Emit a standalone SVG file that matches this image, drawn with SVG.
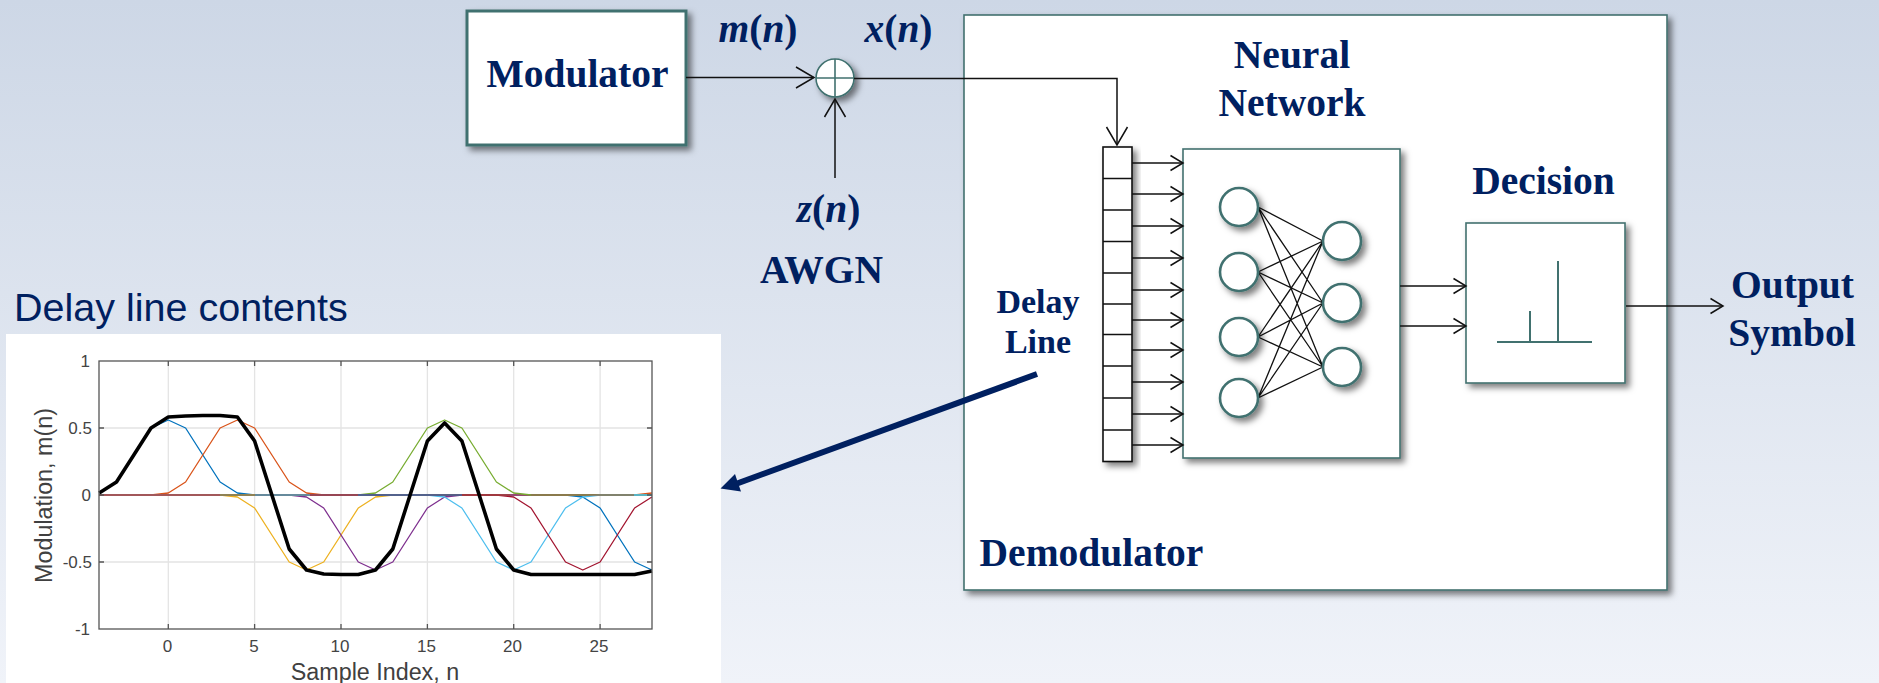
<svg xmlns="http://www.w3.org/2000/svg" width="1879" height="683" viewBox="0 0 1879 683">
<style>
.box{fill:#fff;stroke:#41716f;stroke-width:1.6}
.t{font-family:"Liberation Serif","Times New Roman",serif;font-weight:bold;font-size:39.500px;fill:#002060;text-anchor:middle}
.i{font-style:italic}
.c{fill:none;stroke:#111;stroke-width:1.5}
.e{fill:none;stroke:#111;stroke-width:1.3}
.n{fill:#fff;stroke:#41716f;stroke-width:2.6}
.teal{stroke:#41716f;fill:none}
.tick{font-family:"Liberation Sans",Arial,sans-serif;font-size:17px;fill:#444}
.lab{font-family:"Liberation Sans",Arial,sans-serif;font-size:23.300px;fill:#404040;text-anchor:middle}
.grid{stroke:#e4e4e4;stroke-width:1.3;fill:none}
.ax{stroke:#555;stroke-width:1.3;fill:none}
.p{fill:none;stroke-width:1.3;stroke-linejoin:round}
</style>
<defs>
<linearGradient id="bg" x1="0" y1="0" x2="0" y2="1"><stop offset="0" stop-color="#cdd7e6"/><stop offset="1" stop-color="#f0f3f9"/></linearGradient>
<filter id="sh" x="-20%" y="-20%" width="150%" height="150%"><feDropShadow dx="4" dy="4" stdDeviation="3" flood-color="#000" flood-opacity="0.5"/></filter>
<marker id="big" markerUnits="userSpaceOnUse" markerWidth="24" markerHeight="26" viewBox="-21 -13 24 26" refX="0" refY="0" orient="auto"><path d="M-18,-10.5L0,0L-18,10.5" fill="none" stroke="#111" stroke-width="1.5"/></marker>
<marker id="sm" markerUnits="userSpaceOnUse" markerWidth="18" markerHeight="20" viewBox="-15 -10 18 20" refX="0" refY="0" orient="auto"><path d="M-12.500,-7.500L0,0L-12.500,7.500" fill="none" stroke="#111" stroke-width="1.5"/></marker>
</defs>
<rect width="1879" height="683" fill="url(#bg)"/>

<g id="modulator"><rect x="467" y="11" width="219" height="134" fill="#fff" stroke="#41716f" stroke-width="3" filter="url(#sh)"/><text class="t" x="577.500" y="87">Modulator</text></g>
<g id="demodulator"><rect class="box" x="964" y="15" width="703" height="575" filter="url(#sh)"/><text class="t" x="1091.500" y="566">Demodulator</text></g>
<g id="neural-network"><rect class="box" x="1183" y="149" width="217" height="309" filter="url(#sh)"/>
<text class="t" x="1292" y="68">Neural</text><text class="t" x="1292" y="116">Network</text>
<g class="e">
<path d="M1258,207L1323,241M1258,207L1323,303M1258,207L1323,367M1258,272L1323,241M1258,272L1323,303M1258,272L1323,367M1258,337L1323,241M1258,337L1323,303M1258,337L1323,367M1258,398L1323,241M1258,398L1323,303M1258,398L1323,367"/>
</g>
<g filter="url(#sh)"><circle class="n" cx="1239" cy="207" r="19"/><circle class="n" cx="1239" cy="272" r="19"/><circle class="n" cx="1239" cy="337" r="19"/><circle class="n" cx="1239" cy="398" r="19"/><circle class="n" cx="1342" cy="241" r="19"/><circle class="n" cx="1342" cy="303" r="19"/><circle class="n" cx="1342" cy="367" r="19"/></g>
</g>
<g id="delay-line"><rect x="1103" y="147" width="29" height="314.500" fill="#fff" stroke="#111" stroke-width="1.6" filter="url(#sh)"/>
<path d="M1103,178.500H1132M1103,210H1132M1103,241.500H1132M1103,273H1132M1103,304H1132M1103,334.500H1132M1103,366H1132M1103,398H1132M1103,430H1132" stroke="#111" stroke-width="1.4" fill="none"/>
<text class="t" style="font-size:34px" x="1038" y="313">Delay</text><text class="t" style="font-size:34px" x="1038" y="353">Line</text></g>
<g id="decision"><rect class="box" x="1466" y="223" width="159" height="160" filter="url(#sh)"/>
<path class="teal" stroke-width="2" d="M1497,342H1592M1530,342V311M1558,342V261"/>
<text class="t" x="1543.500" y="194">Decision</text></g>
<g id="adder"><circle cx="835" cy="78" r="19" fill="#fff" stroke="#41716f" stroke-width="1.6" filter="url(#sh)"/><path class="teal" stroke-width="1.6" d="M816,78H854M835,59V97"/></g>
<g id="output-symbol"><text class="t" x="1792.500" y="298">Output</text><text class="t" x="1792" y="346">Symbol</text></g>
<g id="signal-labels">
<text class="t" x="758" y="42"><tspan class="i">m</tspan>(<tspan class="i">n</tspan>)</text>
<text class="t" x="898.500" y="42"><tspan class="i">x</tspan>(<tspan class="i">n</tspan>)</text>
<text class="t" x="828.500" y="222"><tspan class="i">z</tspan>(<tspan class="i">n</tspan>)</text>
<text class="t" x="821.500" y="283">AWGN</text>
</g>

<g id="plot">
<text x="14" y="321" font-family="Liberation Sans,Arial,sans-serif" font-size="39.500" fill="#002060">Delay line contents</text>
<rect x="6" y="334" width="715" height="349" fill="#fff"/>
<path class="grid" d="M168.300,361V629M254.600,361V629M341,361V629M427.400,361V629M513.700,361V629M600.100,361V629M99,428H652M99,495H652M99,562H652"/>
<g class="p">
<polyline stroke="#0072bd" points="99.200,493 116.500,482 133.800,455 151,428 168.300,420 185.600,428 202.800,455 220.100,482 237.400,493 254.600,495 651.900,495"/>
<polyline stroke="#0072bd" points="565.500,495 582.800,497 600.100,508 617.300,535 634.600,562 651.900,570"/>
<polyline stroke="#d95319" points="99.200,495 151,495 168.300,493 185.600,482 202.800,455 220.100,428 237.400,420 254.600,428 271.900,455 289.200,482 306.500,493 323.700,495 634.600,495 651.900,493"/>
<polyline stroke="#edb120" points="99.200,495 220.100,495 237.400,497 254.600,508 271.900,535 289.200,562 306.500,570 323.700,562 341,535 358.300,508 375.500,497 392.800,495 651.900,495"/>
<polyline stroke="#7e2f8e" points="99.200,495 289.200,495 306.500,497 323.700,508 341,535 358.300,562 375.500,570 392.800,562 410.100,535 427.400,508 444.600,497 461.900,495 651.900,495"/>
<polyline stroke="#77ac30" points="99.200,495 358.300,495 375.500,493 392.800,482 410.100,455 427.400,428 444.600,420 461.900,428 479.200,455 496.400,482 513.700,493 531,495 651.900,495"/>
<polyline stroke="#4dbeee" points="99.200,495 427.400,495 444.600,497 461.900,508 479.200,535 496.400,562 513.700,570 531,562 548.200,535 565.500,508 582.800,497 600.100,495 651.900,495"/>
<polyline stroke="#a2142f" points="99.200,495 496.400,495 513.700,497 531,508 548.200,535 565.500,562 582.800,570 600.100,562 617.300,535 634.600,508 651.900,497"/>
<path fill="none" stroke-width="1.600" stroke="#a8625c" d="M99.200,495H220"/>
<path fill="none" stroke-width="1.600" stroke="#8f9a55" d="M220,495H255"/>
<path fill="none" stroke-width="1.600" stroke="#58a6b4" d="M255,495H310"/>
<path fill="none" stroke-width="1.600" stroke="#9a4a55" d="M310,495H358"/>
<path fill="none" stroke-width="1.600" stroke="#3d6fa0" d="M358,495H462"/>
<path fill="none" stroke-width="1.600" stroke="#a0413f" d="M462,495H510"/>
<path fill="none" stroke-width="1.600" stroke="#8f7250" d="M531,495H634"/>
</g>
<polyline fill="none" stroke="#000" stroke-width="3.600" stroke-linejoin="round" points="99.200,493 116.500,482 133.800,455 151,428 168.300,417 185.600,416 202.800,415.500 220.100,415.500 237.400,417 254.600,441 271.900,495 289.200,549 306.500,570 323.700,574 341,574.500 358.300,574.500 375.500,570 392.800,549 410.100,495 427.400,441 444.600,423 461.900,441 479.200,495 496.400,549 513.700,570 531,574.500 634.600,574.500 651.900,571"/>
<rect class="ax" x="99" y="361" width="553" height="268"/>
<path class="ax" d="M168.300,361v5M254.600,361v5M341,361v5M427.400,361v5M513.700,361v5M600.100,361v5M168.300,629v-5M254.600,629v-5M341,629v-5M427.400,629v-5M513.700,629v-5M600.100,629v-5M99,428h5M99,495h5M99,562h5M652,428h-5M652,495h-5M652,562h-5"/>
<g class="tick" text-anchor="end"><text x="90" y="367">1</text><text x="92" y="434">0.5</text><text x="91" y="501">0</text><text x="92" y="568">-0.5</text><text x="90" y="635">-1</text></g>
<g class="tick" text-anchor="middle"><text x="167.500" y="652">0</text><text x="254" y="652">5</text><text x="340" y="652">10</text><text x="426.500" y="652">15</text><text x="512.500" y="652">20</text><text x="599" y="652">25</text></g>
<text class="lab" transform="translate(52,495.500) rotate(-90)">Modulation, m(n)</text>
<text class="lab" x="375" y="680">Sample Index, n</text>
</g>

<g id="connectors">
<path class="c" marker-end="url(#big)" d="M686,77.500H814"/>
<path class="c" marker-end="url(#big)" d="M835,178V99"/>
<path class="c" marker-end="url(#big)" d="M854,78.500H1117V145"/>
<path class="c" marker-end="url(#sm)" d="M1132,163H1183"/>
<path class="c" marker-end="url(#sm)" d="M1132,194H1183"/>
<path class="c" marker-end="url(#sm)" d="M1132,226H1183"/>
<path class="c" marker-end="url(#sm)" d="M1132,258H1183"/>
<path class="c" marker-end="url(#sm)" d="M1132,290H1183"/>
<path class="c" marker-end="url(#sm)" d="M1132,320H1183"/>
<path class="c" marker-end="url(#sm)" d="M1132,350H1183"/>
<path class="c" marker-end="url(#sm)" d="M1132,382H1183"/>
<path class="c" marker-end="url(#sm)" d="M1132,414H1183"/>
<path class="c" marker-end="url(#sm)" d="M1132,445H1183"/>
<path class="c" marker-end="url(#sm)" d="M1400,286H1466"/>
<path class="c" marker-end="url(#sm)" d="M1400,326H1466"/>
<path class="c" marker-end="url(#sm)" d="M1626,306H1723"/>
<path d="M1037,374L733,485" stroke="#002060" stroke-width="6" fill="none"/>
<polygon points="720.500,488.500 735,474 738,483 741,491.500" fill="#002060"/>
</g>
</svg>
